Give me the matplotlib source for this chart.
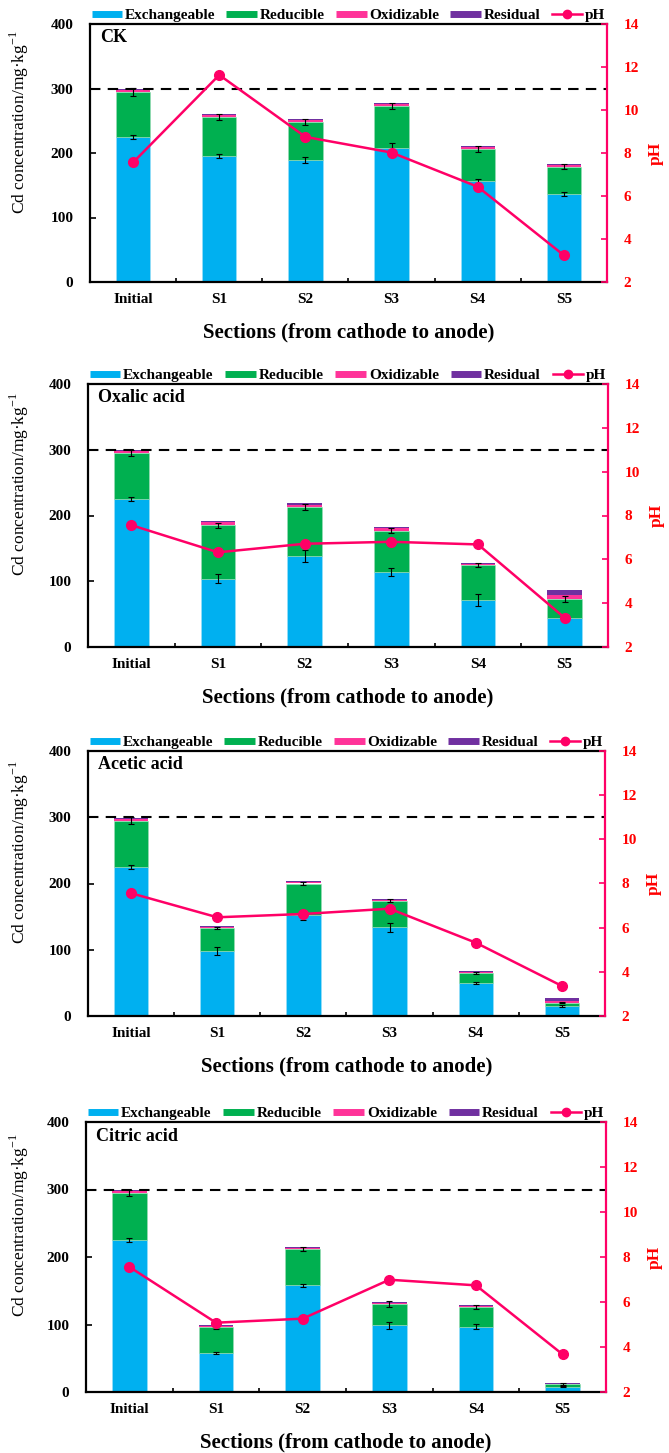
import numpy as np
import matplotlib
matplotlib.use("Agg")
import matplotlib.pyplot as plt
from matplotlib.lines import Line2D

plt.rcParams["font.family"] = "Liberation Serif"
plt.rcParams["mathtext.fontset"] = "custom"
plt.rcParams["mathtext.rm"] = "Liberation Serif"

categories = ["Initial", "S1", "S2", "S3", "S4", "S5"]
treatments = ["CK", "Oxalic acid", "Acetic acid", "Citric acid"]

# Cd fractions (mg/kg) for each section
exchangeable = {
    "CK":          [225, 196, 189, 208, 156, 137],
    "Oxalic acid": [225, 104, 139, 114, 72, 44],
    "Acetic acid": [225, 98, 152, 134, 50, 15],
    "Citric acid": [225, 58, 158, 99, 97, 8],
}
reducible = {
    "CK":          [70, 60, 59, 65, 50, 42],
    "Oxalic acid": [70, 81, 74, 63, 52, 29],
    "Acetic acid": [70, 35, 48, 40, 15, 5],
    "Citric acid": [70, 38, 53.5, 31.5, 29, 4],
}
oxidizable = {
    "CK":          [3, 3, 3.5, 3, 3, 3],
    "Oxalic acid": [3, 4.5, 3.5, 3.5, 2.5, 5.5],
    "Acetic acid": [3, 1.5, 2.5, 1.5, 1, 2.5],
    "Citric acid": [3, 1.5, 2.5, 1.5, 1.5, 0.5],
}
residual = {
    "CK":          [1.5, 2, 1.5, 1.5, 1.5, 1.5],
    "Oxalic acid": [1.5, 2.5, 2, 2, 1.5, 8],
    "Acetic acid": [1.5, 2, 2, 1.5, 1.5, 4],
    "Citric acid": [1.5, 1.5, 1.5, 1.5, 1.5, 0.5],
}
exch_err = {
    "CK":          [3, 3, 5, 7, 3, 3],
    "Oxalic acid": [3, 7, 9, 6, 9, 2],
    "Acetic acid": [3, 6, 7, 7, 2, 2],
    "Citric acid": [3, 1, 2, 5, 4, 1],
}
red_err = {
    "CK":          [6, 5, 5, 5, 5, 4],
    "Oxalic acid": [5, 4, 4, 4, 3, 5],
    "Acetic acid": [5, 2, 2, 2, 1, 1],
    "Citric acid": [5, 2, 3, 4, 3, 1],
}
ph = {
    "CK":          [7.56, 11.63, 8.75, 8.02, 6.43, 3.24],
    "Oxalic acid": [7.56, 6.32, 6.71, 6.80, 6.68, 3.33],
    "Acetic acid": [7.56, 6.47, 6.62, 6.86, 5.32, 3.36],
    "Citric acid": [7.56, 5.08, 5.26, 6.99, 6.74, 3.67],
}
limit = 300

c_exch = "#00B0F0"
c_red = "#00B050"
c_oxi = "#FF3399"
c_res = "#7030A0"
c_ph = "#FF0066"
c_axis = "#FF0000"

W, H = 669, 1453
fig = plt.figure(figsize=(W / 100, H / 100), dpi=100)

# axes boxes in pixels: left, right, top, bottom
boxes = [(90, 607, 24, 282), (88, 608, 384, 647),
         (88, 605, 751, 1016), (86, 606, 1122, 1392)]

x = np.arange(len(categories))
bw = 0.4

for name, (l, r, t, b) in zip(treatments, boxes):
    ax = fig.add_axes([l / W, 1 - b / H, (r - l) / W, (b - t) / H])
    e = np.array(exchangeable[name], float)
    rd = np.array(reducible[name], float)
    ox = np.array(oxidizable[name], float)
    rs = np.array(residual[name], float)

    ax.bar(x, e, bw, color=c_exch, edgecolor="#9fe0f8", linewidth=0.4)
    ax.bar(x, rd, bw, bottom=e, color=c_red, edgecolor="#9fdcb8", linewidth=0.4)
    ax.bar(x, ox, bw, bottom=e + rd, color=c_oxi, linewidth=0)
    ax.bar(x, rs, bw, bottom=e + rd + ox, color=c_res, linewidth=0)
    ax.errorbar(x, e, yerr=exch_err[name], fmt="none", ecolor="black",
                elinewidth=0.8, capsize=2, capthick=0.8)
    ax.errorbar(x, e + rd, yerr=red_err[name], fmt="none", ecolor="black",
                elinewidth=0.8, capsize=2, capthick=0.8)
    ax.axhline(limit, color="black", lw=1.5, ls=(0, (5, 3.5)), zorder=3)

    ax.set_xlim(-0.5, len(categories) - 0.5)
    ax.set_ylim(0, 400)
    ax.set_yticks(np.arange(0, 401, 100))
    ax.set_xticks(x)
    ax.set_xticklabels(categories, fontweight="bold", fontsize=11)
    ax.set_xticks(x[:-1] + 0.5, minor=True)
    ax.tick_params(axis="x", which="major", length=0, pad=8)
    ax.tick_params(axis="x", which="minor", direction="in", length=3, width=1.2)
    ax.tick_params(axis="y", direction="in", length=4, width=1.2, pad=12,
                   labelsize=11)
    for lab in ax.get_yticklabels():
        lab.set_fontweight("bold")
    for s in ["left", "bottom", "top"]:
        ax.spines[s].set_linewidth(1.6)
    ax.spines["right"].set_visible(False)
    ax.set_ylabel("Cd concentration/mg·kg$^{-1}$", fontsize=12.5)
    ax.yaxis.set_label_coords((31 - l) / (r - l), 0.62)
    ax.set_xlabel("Sections (from cathode to anode)", fontsize=15,
                  fontweight="bold", labelpad=12)
    ax.text(0.02, 0.948, name, transform=ax.transAxes, fontsize=13,
            fontweight="bold", va="center", ha="left")

    ax2 = ax.twinx()
    ax2.plot(x, ph[name], color=c_ph, lw=1.8, marker="o", ms=7, zorder=5)
    ax2.set_ylim(2, 14)
    ax2.set_yticks(np.arange(2, 15, 2))
    ax2.tick_params(axis="y", direction="in", length=4, width=1.2,
                    color=c_ph, labelcolor=c_axis, labelsize=11, pad=12)
    for lab in ax2.get_yticklabels():
        lab.set_fontweight("bold")
    for s in ["left", "bottom", "top"]:
        ax2.spines[s].set_visible(False)
    ax2.spines["right"].set_color(c_ph)
    ax2.spines["right"].set_linewidth(1.6)
    ax2.set_ylabel("pH", color=c_axis, fontsize=12.5, fontweight="bold",
                   labelpad=6)

    handles = [
        Line2D([], [], color=c_exch, lw=5, solid_capstyle="butt"),
        Line2D([], [], color=c_red, lw=5, solid_capstyle="butt"),
        Line2D([], [], color=c_oxi, lw=5, solid_capstyle="butt"),
        Line2D([], [], color=c_res, lw=5, solid_capstyle="butt"),
        Line2D([], [], color=c_ph, lw=1.8, marker="o", ms=6),
    ]
    labels = ["Exchangeable", "Reducible", "Oxidizable", "Residual", "pH"]
    ax2.legend(handles, labels, loc="lower left", mode="expand", ncol=5,
               bbox_to_anchor=(0, 1.0, 1, 0.1), borderaxespad=0,
               borderpad=0.1, frameon=False, handlelength=2.0,
               handletextpad=0.2, columnspacing=0.4,
               prop={"weight": "bold", "size": 11})

fig.savefig("out.png", dpi=100)
